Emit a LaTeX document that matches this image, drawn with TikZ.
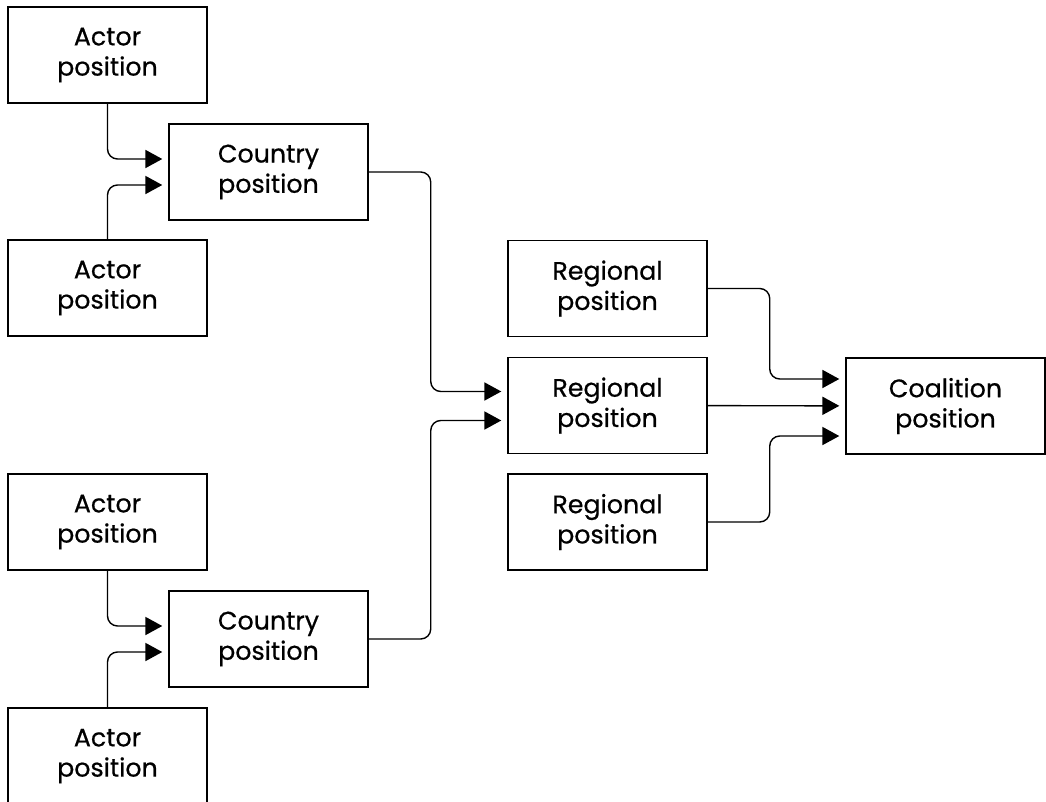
\documentclass[tikz,border=0pt]{standalone}
\usepackage{fontspec}
\setmainfont{Poppins}[BoldFont=*, BoldFeatures={FakeBold=0.6}]
\usetikzlibrary{arrows.meta}

\tikzset{
  box/.style={draw, line width=1pt, minimum width=4.975cm, minimum height=2.4cm,
    align=center, inner sep=0pt, font=\fontsize{18}{21.5}\selectfont\bfseries},
  link/.style={line width=1pt, rounded corners=0.25cm, shorten >=0.15cm,
    -{Triangle[length=0.42cm,width=0.45cm]}}
}

\begin{document}
\begin{tikzpicture}
[x=0.025cm,y=-0.025cm]
\useasboundingbox (0,0) rectangle (1046,802);

\node[box] (a1) at (107.5,55) {Actor\\position};
\node[box] (c1) at (268.5,172) {Country\\position};
\node[box] (a2) at (107.5,288) {Actor\\position};

\node[box] (a3) at (107.5,522) {Actor\\position};
\node[box] (c2) at (268.5,639) {Country\\position};
\node[box] (a4) at (107.5,756) {Actor\\position};

\node[box] (r1) at (607.5,288.5) {Regional\\position};
\node[box] (r2) at (607.5,405.5) {Regional\\position};
\node[box] (r3) at (607.5,522) {Regional\\position};

\node[box] (co) at (945.5,406) {Coalition\\position};

% actors into countries
\foreach \from/\to/\dy in {a1/c1/0.325,a2/c1/-0.325,a3/c2/0.325,a4/c2/-0.325}
\draw[link] (\from) |- ([yshift=\dy cm]\to.west);

% countries into region, regions into coalition
\foreach \from/\to/\dy in {c1/r2/0.35,c2/r2/-0.375,r1/co/0.675,r3/co/-0.75}
\draw[link] (\from.east) -- ++(62,0) |- ([yshift=\dy cm]\to.west);
\draw[link] (r2) -- (co);
\end{tikzpicture}
\end{document}
